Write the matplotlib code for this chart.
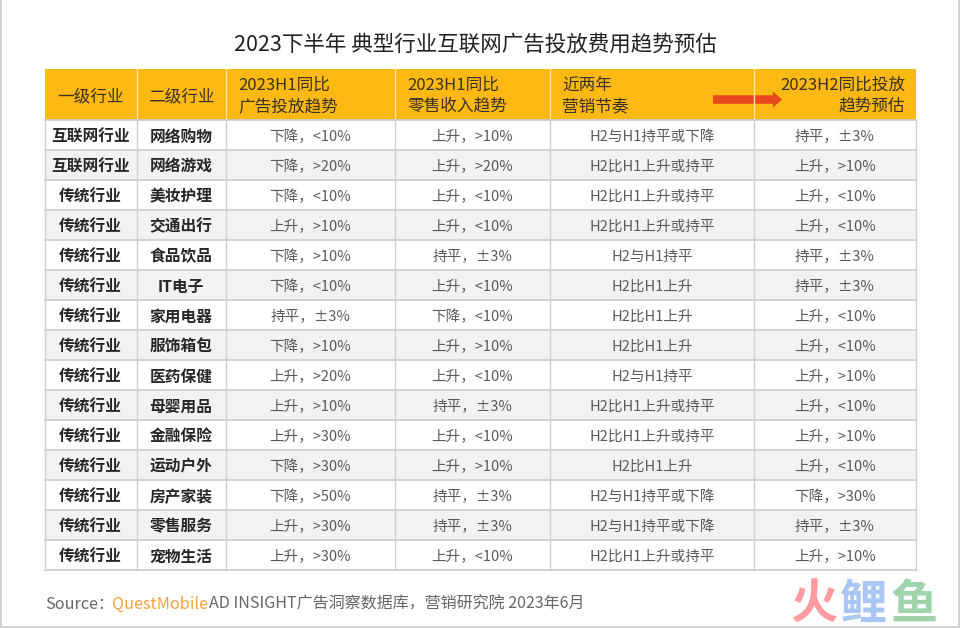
import matplotlib
matplotlib.use('Agg')
import matplotlib.pyplot as plt
from matplotlib.patches import Rectangle, FancyArrow

plt.rcParams['font.family'] = ['Noto Sans CJK SC', 'DejaVu Sans']

title = '2023下半年 典型行业互联网广告投放费用趋势预估'
level1 = ['互联网行业', '互联网行业'] + ['传统行业'] * 13
level2 = ['网络购物', '网络游戏', '美妆护理', '交通出行', '食品饮品', 'IT电子', '家用电器', '服饰箱包',
          '医药保健', '母婴用品', '金融保险', '运动户外', '房产家装', '零售服务', '宠物生活']
ad_trend = ['下降，<10%', '下降，>20%', '下降，<10%', '上升，>10%', '下降，>10%', '下降，<10%', '持平，±3%',
            '下降，>10%', '上升，>20%', '上升，>10%', '上升，>30%', '下降，>30%', '下降，>50%', '上升，>30%', '上升，>30%']
retail_trend = ['上升，>10%', '上升，>20%', '上升，<10%', '上升，<10%', '持平，±3%', '上升，<10%', '下降，<10%',
                '上升，>10%', '上升，<10%', '持平，±3%', '上升，<10%', '上升，>10%', '持平，±3%', '持平，±3%', '上升，<10%']
rhythm = ['H2与H1持平或下降', 'H2比H1上升或持平', 'H2比H1上升或持平', 'H2比H1上升或持平', 'H2与H1持平', 'H2比H1上升',
          'H2比H1上升', 'H2比H1上升', 'H2与H1持平', 'H2比H1上升或持平', 'H2比H1上升或持平', 'H2比H1上升',
          'H2与H1持平或下降', 'H2与H1持平或下降', 'H2比H1上升或持平']
forecast = ['持平，±3%', '上升，>10%', '上升，<10%', '上升，<10%', '持平，±3%', '持平，±3%', '上升，<10%', '上升，<10%',
            '上升，>10%', '上升，<10%', '上升，>10%', '上升，<10%', '下降，>30%', '持平，±3%', '上升，>10%']

# column edges and row layout, pixels
col_x = [45, 136.5, 226, 395, 550, 754, 916]
head_top, head_bot = 69, 120
row_h = 30

fig = plt.figure(figsize=(9.6, 6.28), dpi=100)
ax = fig.add_axes([0, 0, 1, 1])
ax.set_xlim(0, 960)
ax.set_ylim(628, 0)
ax.axis('off')

grey = '#cfcfcf'
text_c = '#5a5a5a'
dark = '#262626'

# outer frame of the image
ax.plot([0.5, 0.5, 958.5, 958.5], [0, 627, 627, 0], color='#cccccc', lw=1.2)

ax.text(475, 44.5, title, ha='center', va='center', fontsize=15.5, color='#222222')

# header
ax.add_patch(Rectangle((col_x[0], head_top), col_x[-1] - col_x[0], head_bot - head_top, color='#fdb913', lw=0))
for x in col_x[1:-1]:
    ax.plot([x, x], [head_top, head_bot], color='#fde6a8', lw=1)

head_kw = dict(va='center', fontsize=12, color='#3a3226', linespacing=1.3)
ax.text((col_x[0] + col_x[1]) / 2, 96.5, '一级行业', ha='center', **head_kw)
ax.text((col_x[1] + col_x[2]) / 2, 96.5, '二级行业', ha='center', **head_kw)
ax.text(238, 96, '2023H1同比\n广告投放趋势', ha='left', **head_kw)
ax.text(407, 96, '2023H1同比\n零售收入趋势', ha='left', **head_kw)
ax.text(562, 96, '近两年\n营销节奏', ha='left', **head_kw)
ax.text(905, 96, '2023H2同比投放\n趋势预估', ha='right', multialignment='right', **head_kw)

ax.add_patch(FancyArrow(713, 99.5, 69, 0, width=8.5, head_width=16, head_length=9,
                        length_includes_head=True, color='#e8481c', lw=0))

# body
columns = [level1, level2, ad_trend, retail_trend, rhythm, forecast]
for i in range(len(level1)):
    top = head_bot + i * row_h
    if i % 2 == 1:
        ax.add_patch(Rectangle((col_x[0], top), col_x[-1] - col_x[0], row_h, color='#f2f2f2', lw=0))
    for j, col in enumerate(columns):
        cx = (col_x[j] + col_x[j + 1]) / 2
        if j < 2:
            ax.text(cx, top + row_h / 2 + 1.5, col[i], ha='center', va='center', fontsize=11.3,
                    color=dark, fontweight='bold')
        else:
            ax.text(cx, top + row_h / 2 + 1.5, col[i], ha='center', va='center', fontsize=10.5,
                    color=text_c, fontweight='light')

bottom = head_bot + len(level1) * row_h
for i in range(len(level1) + 1):
    y = head_bot + i * row_h
    ax.plot([col_x[0], col_x[-1]], [y, y], color=grey, lw=1.3)
for x in col_x:
    ax.plot([x, x], [head_bot, bottom], color=grey, lw=1)

# source line
ax.text(45, 604.5, 'Source：', ha='left', va='center', fontsize=11.6, color='#666666', fontweight='light')
ax.text(112, 604.5, 'QuestMobile', ha='left', va='center', fontsize=11.7, color='#f7a23b')
ax.text(209, 604.5, 'AD INSIGHT广告洞察数据库，营销研究院 2023年6月', ha='left', va='center', fontsize=11.55,
        color='#666666', fontweight='light')

# watermark
ax.text(814, 605, '火', ha='center', va='center', fontsize=34, color='#ff9a9e', fontweight='black')
ax.text(864, 605, '鲤', ha='center', va='center', fontsize=34, color='#a9c6f7', fontweight='black')
ax.text(914, 605, '鱼', ha='center', va='center', fontsize=34, color='#9fd3ac', fontweight='black')

fig.savefig('out.png', dpi=100)
